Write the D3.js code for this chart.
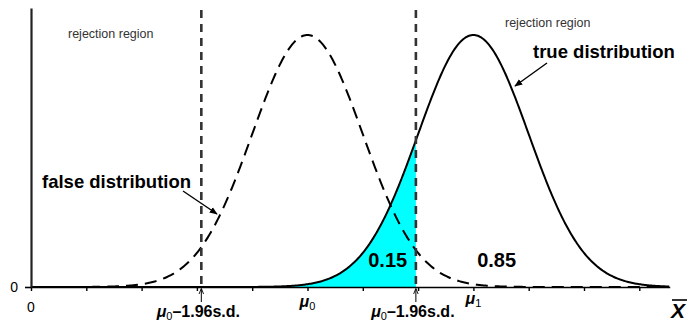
<!DOCTYPE html>
<html>
<head>
<meta charset="utf-8">
<script src="https://cdn.jsdelivr.net/npm/d3@7"></script>
<style>
  body { margin: 0; background: #fff; }
  text { font-family: Arial, "Liberation Sans", sans-serif; }
</style>
</head>
<body>
<svg id="chart" width="694" height="324"></svg>
<script>
// distributions (means in x units, common sd)
const means = { false: 5, true: 8 };
const sd = 1;
const critical = [3.08, 6.96];           // dashed lines
const xTicks = d3.range(0, 12);          // 0 .. 11
const xMax = 11.55;
const areaLabels = [{ x: 6.45, text: "0.15" }, { x: 8.42, text: "0.85" }];
const critLabel = "–1.96s.d.";

const svg = d3.select("#chart");
const x = d3.scaleLinear().domain([0, xMax]).range([31, 31 + xMax * 55.3]);
const y = d3.scaleLinear().domain([0, 0.4417]).range([287, 8]);

const pdf = (v, m) => Math.exp(-0.5 * ((v - m) / sd) ** 2) / (sd * Math.sqrt(2 * Math.PI));
const xs = d3.range(0, xMax + 0.001, 0.02);

// arrow markers
const defs = svg.append("defs");
defs.append("marker").attr("id", "head").attr("viewBox", "0 0 10 10")
  .attr("refX", 9).attr("refY", 5).attr("markerWidth", 8).attr("markerHeight", 8)
  .attr("markerUnits", "userSpaceOnUse").attr("orient", "auto")
  .append("path").attr("d", "M0,1 L10,5 L0,9 Z").attr("fill", "#000");
defs.append("marker").attr("id", "small").attr("viewBox", "0 0 10 10")
  .attr("refX", 9).attr("refY", 5).attr("markerWidth", 6).attr("markerHeight", 6)
  .attr("markerUnits", "userSpaceOnUse").attr("orient", "auto")
  .append("path").attr("d", "M0,1 L10,5 L0,9").attr("fill", "none").attr("stroke", "#000").attr("stroke-width", 1.5);

// shaded beta area under the true distribution
const area = d3.area().x(d => x(d)).y0(y(0)).y1(d => y(pdf(d, means.true)));
svg.append("path")
  .attr("d", area(xs.filter(d => d <= critical[1]).concat([critical[1]])))
  .attr("fill", "#00ffff");

const line = m => d3.line().x(d => x(d)).y(d => y(pdf(d, m)))(xs);

svg.append("path").attr("d", line(means.false))
  .attr("fill", "none").attr("stroke", "#000").attr("stroke-width", 2)
  .attr("stroke-dasharray", "12,7");
svg.append("path").attr("d", line(means.true))
  .attr("fill", "none").attr("stroke", "#000").attr("stroke-width", 2);

// critical value lines
svg.selectAll(".crit").data(critical).enter().append("line")
  .attr("x1", d => x(d)).attr("x2", d => x(d))
  .attr("y1", 10).attr("y2", y(0))
  .attr("stroke", "#333").attr("stroke-width", 2.6).attr("stroke-dasharray", "8,6");

// axes
const xAxis = svg.append("g").attr("transform", `translate(0,${y(0)})`)
  .call(d3.axisBottom(x).tickValues(xTicks).tickFormat("").tickSizeInner(4).tickSizeOuter(0));
xAxis.select(".domain").attr("stroke", "#000").attr("stroke-width", 1.6);
xAxis.selectAll(".tick line").attr("stroke-width", 1.4);

const yAxis = svg.append("g").attr("transform", `translate(${x(0)},0)`)
  .call(d3.axisLeft(y).tickValues([0]).tickFormat(d3.format("d")).tickSizeInner(6).tickSizeOuter(0));
yAxis.select(".domain").attr("stroke", "#222").attr("stroke-width", 2.2);
yAxis.selectAll(".tick line").attr("stroke-width", 1.6);
yAxis.selectAll(".tick text").attr("font-size", 14).attr("x", -13).attr("fill", "#000")
  .attr("font-family", "Arial, 'Liberation Sans', sans-serif");

// x labels
svg.append("text").attr("x", x(0)).attr("y", 312).attr("text-anchor", "middle")
  .attr("font-size", 14).text("0");

function muLabel(v, sub, yy) {
  const t = svg.append("text").attr("x", x(v)).attr("y", yy).attr("text-anchor", "middle")
    .attr("font-size", 16).attr("font-weight", "bold");
  t.append("tspan").attr("font-style", "italic").text("μ");
  t.append("tspan").attr("font-size", 11).attr("font-weight", "normal").attr("dy", 3).text(sub);
}
muLabel(means.false, "0", 307);
muLabel(means.true, "1", 304);

critical.forEach(c => {
  const t = svg.append("text").attr("x", x(c) - 3).attr("y", 317).attr("text-anchor", "middle")
    .attr("font-size", 16).attr("font-weight", "bold");
  t.append("tspan").attr("font-style", "italic").text("μ");
  t.append("tspan").attr("font-size", 11).attr("font-weight", "normal").attr("dy", 3).text("0");
  t.append("tspan").attr("dy", -3).text(critLabel);
  svg.append("line").attr("x1", x(c)).attr("x2", x(c)).attr("y1", 302).attr("y2", 289)
    .attr("stroke", "#000").attr("stroke-width", 1).attr("marker-end", "url(#small)");
});

// X-bar label
svg.append("text").attr("x", 678).attr("y", 318).attr("text-anchor", "middle")
  .attr("font-family", "'Liberation Serif', 'DejaVu Serif', serif")
  .attr("font-style", "italic").attr("font-weight", "bold").attr("font-size", 21).text("X");
svg.append("line").attr("x1", 672).attr("x2", 687).attr("y1", 300).attr("y2", 300)
  .attr("stroke", "#000").attr("stroke-width", 1.6);

// region labels
svg.selectAll(".rej").data([[68, 38], [505, 27]]).enter().append("text")
  .attr("x", d => d[0]).attr("y", d => d[1]).attr("font-size", 12.5).attr("fill", "#333")
  .text("rejection region");

svg.selectAll(".al").data(areaLabels).enter().append("text")
  .attr("x", d => x(d.x)).attr("y", 267).attr("text-anchor", "middle")
  .attr("font-size", 20).attr("font-weight", "bold").text(d => d.text);

// distribution names with arrows
svg.append("text").attr("x", 533).attr("y", 58).attr("font-size", 18.5).attr("font-weight", "bold")
  .text("true distribution");
svg.append("line").attr("x1", 547).attr("y1", 63).attr("x2", 515).attr("y2", 86)
  .attr("stroke", "#000").attr("stroke-width", 1.4).attr("marker-end", "url(#head)");
svg.append("text").attr("x", 42).attr("y", 188).attr("font-size", 18.5).attr("font-weight", "bold")
  .text("false distribution");
svg.append("line").attr("x1", 183).attr("y1", 191).attr("x2", 217).attr("y2", 214)
  .attr("stroke", "#000").attr("stroke-width", 1.4).attr("marker-end", "url(#head)");
</script>
</body>
</html>
